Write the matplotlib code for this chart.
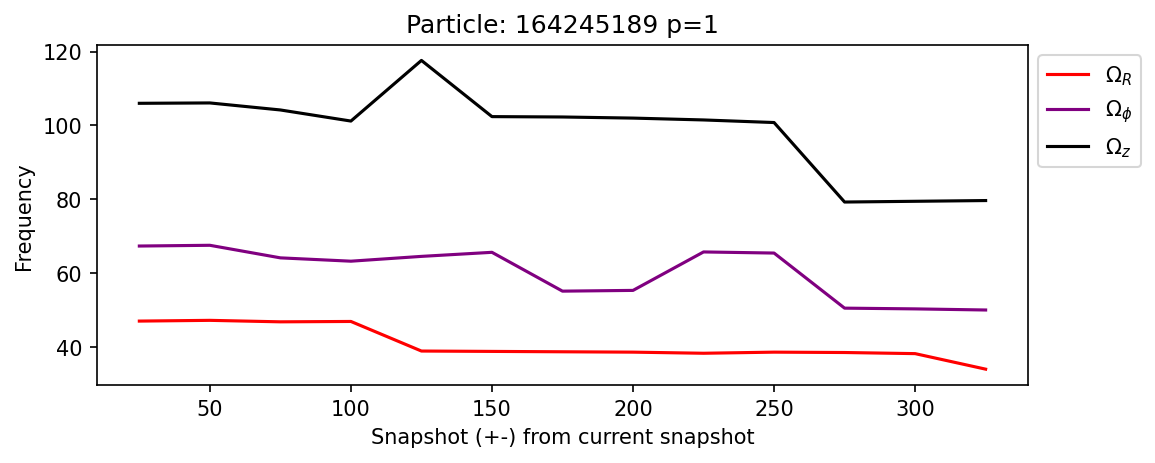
import matplotlib
matplotlib.use("Agg")
import matplotlib.pyplot as plt

snapshots = [25, 50, 75, 100, 125, 150, 175, 200, 225, 250, 275, 300, 325]
omega_r = [47.1, 47.3, 46.9, 47.0, 39.0, 38.9, 38.8, 38.7, 38.4, 38.7, 38.6, 38.3, 34.1]
omega_phi = [67.4, 67.6, 64.2, 63.3, 64.6, 65.7, 55.2, 55.4, 65.8, 65.5, 50.6, 50.4, 50.1]
omega_z = [106.0, 106.1, 104.2, 101.2, 117.6, 102.4, 102.3, 102.0, 101.5, 100.8, 79.3, 79.5, 79.7]

fig = plt.figure(figsize=(7.7, 3.093), dpi=150)
ax = fig.add_axes([0.084, 0.169, 0.806, 0.732])

ax.plot(snapshots, omega_r, color="red", label=r"$\Omega_R$")
ax.plot(snapshots, omega_phi, color="purple", label=r"$\Omega_\phi$")
ax.plot(snapshots, omega_z, color="black", label=r"$\Omega_z$")

ax.set_title("Particle: 164245189 p=1")
ax.set_xlabel("Snapshot (+-) from current snapshot")
ax.set_ylabel("Frequency")
ax.legend(loc="upper left", bbox_to_anchor=(1, 1))

fig.savefig("out.png", dpi=150)
